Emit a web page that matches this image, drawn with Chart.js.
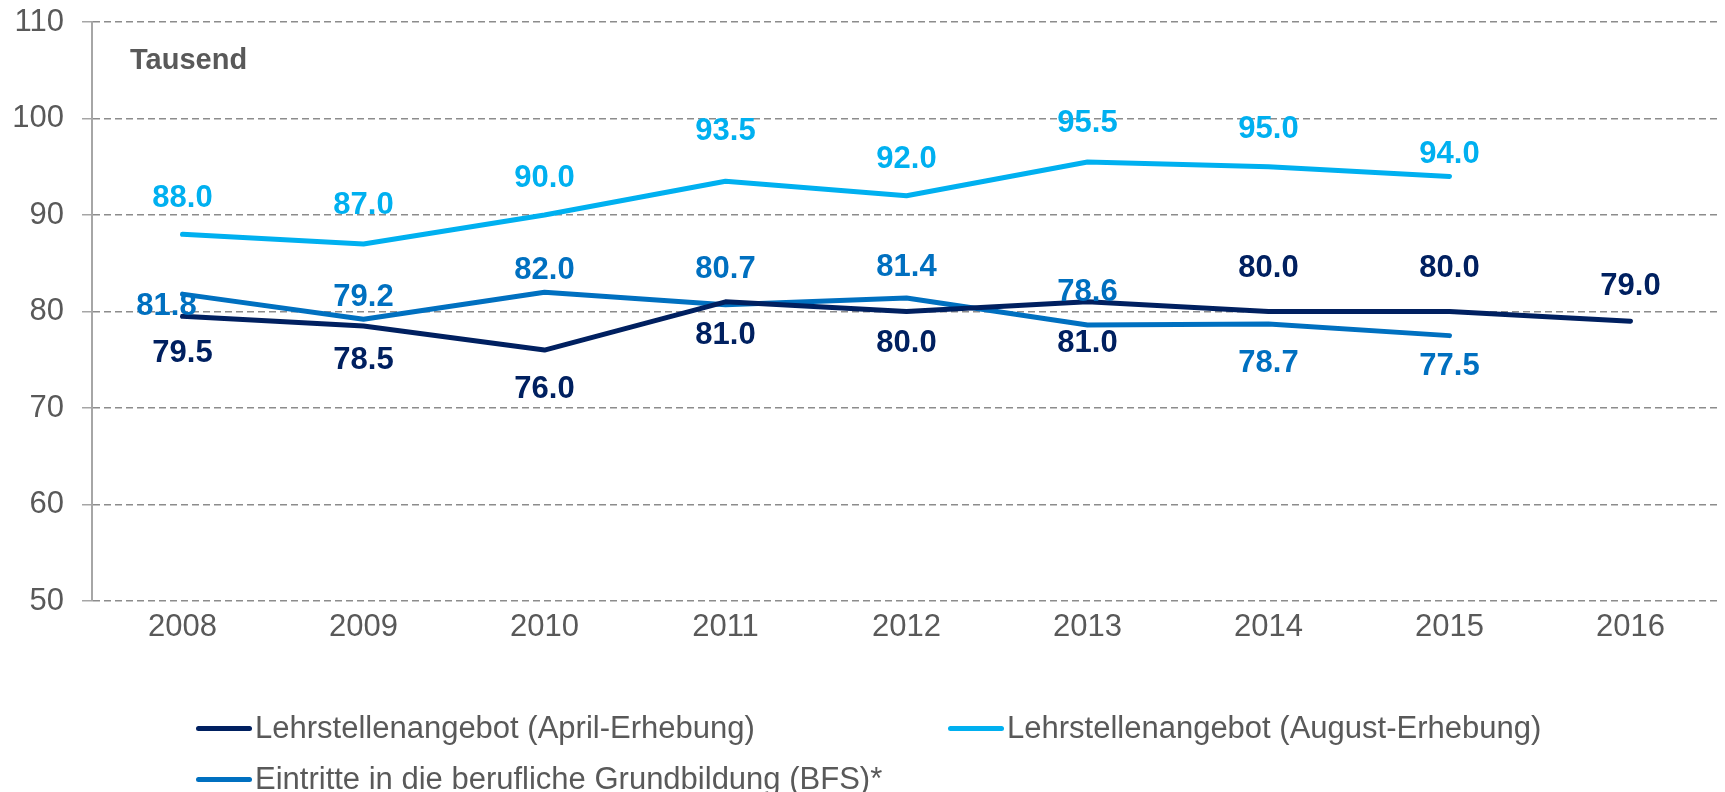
<!DOCTYPE html>
<html>
<head>
<meta charset="utf-8">
<script src="https://cdn.jsdelivr.net/npm/chart.js@4.4.1/dist/chart.umd.min.js"></script>
<style>
  html, body { margin: 0; padding: 0; background: #fff; }
  #wrap { position: relative; width: 1725px; height: 792px; overflow: hidden; }
  #chart { position: absolute; left: 0; top: 0; }
  #einheit { position: absolute; left: 130px; top: 43px; font: bold 29px "Liberation Sans", Arial, sans-serif; color: #595959; }
  #legende { position: absolute; left: 196px; top: 710px; width: 1500px; font: 31px "Liberation Sans", Arial, sans-serif; color: #595959; }
  .leg-item { position: absolute; display: flex; align-items: center; white-space: nowrap; }
  .leg-line { width: 56px; height: 5px; border-radius: 3px; margin-right: 3px; }
</style>
</head>
<body>
<div id="wrap">
  <canvas id="chart" width="1725" height="792"></canvas>
  <div id="einheit">Tausend</div>
  <div id="legende"></div>
</div>
<script>
// Daten (Tausend)
const jahre = ['2008', '2009', '2010', '2011', '2012', '2013', '2014', '2015', '2016'];
const aprilWerte = [79.5, 78.5, 76.0, 81.0, 80.0, 81.0, 80.0, 80.0, 79.0];
const augustWerte = [88.0, 87.0, 90.0, 93.5, 92.0, 95.5, 95.0, 94.0, null];
const bfsWerte = [81.8, 79.2, 82.0, 80.7, 81.4, 78.6, 78.7, 77.5, null];
const yTicks = [50, 60, 70, 80, 90, 100, 110];

// Beschriftungs-Versatz (px) pro Punkt
const aprilDy = [37, 34, 39, 34, 32, 42, -43, -43, -35];
const augustDy = [-36, -38, -37, -50, -36, -38, -37, -22, 0];
const bfsDy = [12, -22, -22, -35, -31, -33, 39, 31, 0];
const bfsDx = [-16, 0, 0, 0, 0, 0, 0, 0, 0];

const farben = { april: '#002060', august: '#00B0F0', bfs: '#0070C0' };

const datasets = [
    { label: 'Lehrstellenangebot (April-Erhebung)', data: aprilWerte, borderColor: farben.april, dy: aprilDy, order: 1 },
    { label: 'Lehrstellenangebot (August-Erhebung)', data: augustWerte, borderColor: farben.august, dy: augustDy, order: 2 },
    { label: 'Eintritte in die berufliche Grundbildung (BFS)*', data: bfsWerte, borderColor: farben.bfs, dy: bfsDy, dx: bfsDx, order: 3 }
].map(d => ({ ...d, backgroundColor: d.borderColor, borderWidth: 5, borderCapStyle: 'round', borderJoinStyle: 'round', pointRadius: 0, tension: 0, spanGaps: false }));

// Werte-Beschriftungen direkt auf dem Canvas
const wertLabels = {
    id: 'wertLabels',
    afterDatasetsDraw(chart) {
        const ctx = chart.ctx;
        ctx.save();
        ctx.font = 'bold 31px "Liberation Sans", Arial, sans-serif';
        ctx.textAlign = 'center';
        ctx.textBaseline = 'middle';
        chart.data.datasets.forEach((ds, i) => {
            const meta = chart.getDatasetMeta(i);
            meta.data.forEach((pt, j) => {
                if (ds.data[j] == null) return;
                const dx = ds.dx ? ds.dx[j] : 0;
                ctx.fillStyle = ds.borderColor;
                ctx.fillText(ds.data[j].toFixed(1), pt.x + dx, pt.y + ds.dy[j]);
            });
        });
        ctx.restore();
    }
};

const ctx = document.getElementById('chart').getContext('2d');
new Chart(ctx, {
    type: 'line',
    data: { labels: jahre, datasets },
    options: {
        responsive: false,
        animation: false,
        layout: { padding: { top: 22, right: 4, left: 0, bottom: 0 } },
        plugins: { legend: { display: false }, tooltip: { enabled: false } },
        scales: {
            x: {
                offset: true,
                grid: { display: false, drawTicks: false },
                border: { display: false },
                ticks: { color: '#595959', font: { family: '"Liberation Sans", Arial, sans-serif', size: 31 }, padding: 8, maxRotation: 0 },
                afterFit: s => { s.height = 191; s.paddingLeft = 0; s.paddingRight = 0; }
            },
            y: {
                min: 50, max: 110,
                afterBuildTicks: s => { s.ticks = yTicks.map(v => ({ value: v })); },
                grid: { color: '#8c8c8c', lineWidth: 1.5, tickLength: 10, tickColor: '#a6a6a6', tickBorderDash: [] },
                border: { display: true, color: '#a6a6a6', width: 2, dash: [7, 4] },
                ticks: { color: '#595959', font: { family: '"Liberation Sans", Arial, sans-serif', size: 31 }, padding: 18 },
                afterFit: s => { s.width = 92; s.paddingTop = 0; s.paddingBottom = 0; }
            }
        }
    },
    plugins: [wertLabels, {
        id: 'gitterGestrichelt',
        beforeDraw(chart) {
            chart.options.scales.y.grid.borderDash = [6, 4];
        }
    }]
});

// Legende
const legende = document.getElementById('legende');
const positionen = [[0, 0], [752, 0], [0, 51]];
datasets.forEach((d, i) => {
    const el = document.createElement('div');
    el.className = 'leg-item';
    el.style.left = positionen[i][0] + 'px';
    el.style.top = positionen[i][1] + 'px';
    el.innerHTML = `<span class="leg-line" style="background:${d.borderColor}"></span><span>${d.label}</span>`;
    legende.appendChild(el);
});
</script>
</body>
</html>
